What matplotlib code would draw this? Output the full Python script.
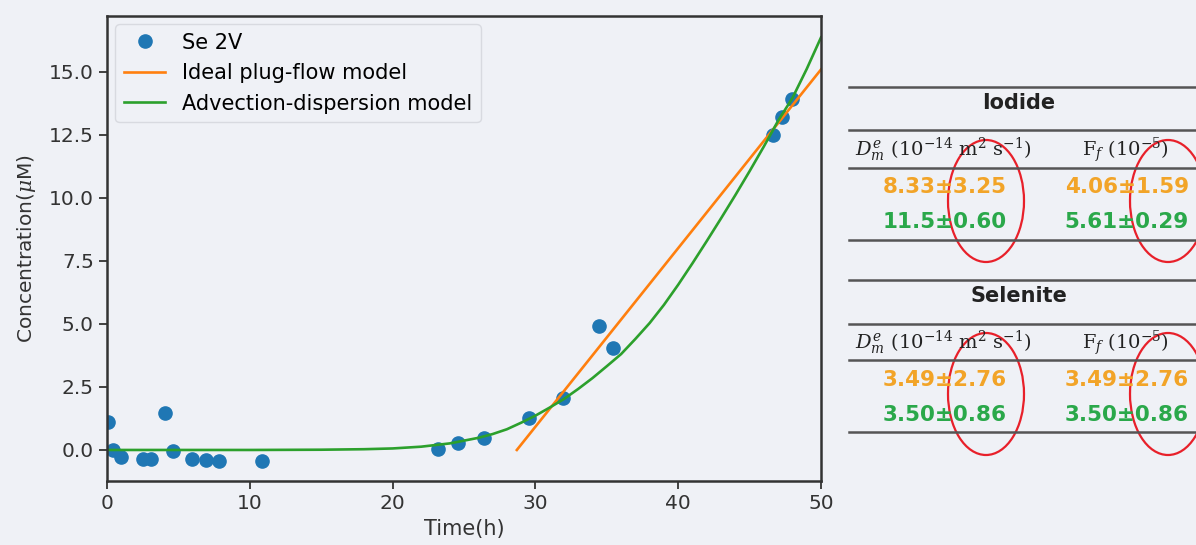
import numpy as np
import matplotlib
matplotlib.use("Agg")
import matplotlib.pyplot as plt
from matplotlib.lines import Line2D
from matplotlib.patches import Ellipse

plt.rcParams["mathtext.fontset"] = "dejavuserif"

# measured data (Se 2V)
t_obs = [0.05, 0.4, 0.95, 2.5, 3.05, 4.05, 4.6, 5.95, 6.95, 7.85, 10.85,
         23.2, 24.6, 26.4, 29.55, 31.95, 34.45, 35.4, 46.65, 47.3, 48.0]
c_obs = [1.10, 0.0, -0.28, -0.35, -0.35, 1.48, -0.03, -0.35, -0.39, -0.42, -0.45,
         0.04, 0.27, 0.48, 1.28, 2.04, 4.93, 4.06, 12.48, 13.2, 13.93]

t_plug = [28.7, 50.0]
c_plug = [0.0, 15.08]

# advection-dispersion model
t_ad = [0, 5, 10, 15, 18, 20, 22, 24, 26, 27, 28, 29, 30, 31, 32, 33, 34, 35,
        36, 37, 38, 39, 40, 41, 42, 43, 44, 45, 46, 47, 48, 49, 50]
c_ad = [0.0, 0.0, 0.0, 0.01, 0.03, 0.06, 0.13, 0.26, 0.48, 0.63, 0.82, 1.08,
        1.36, 1.68, 2.02, 2.42, 2.85, 3.32, 3.80, 4.40, 5.03, 5.75, 6.55,
        7.40, 8.28, 9.18, 10.10, 11.05, 12.03, 13.05, 13.95, 15.10, 16.35]

# table on the right
sections = ["Iodide", "Selenite"]
plug_vals = [["8.33±3.25", "4.06±1.59"], ["3.49±2.76", "3.49±2.76"]]
ad_vals = [["11.5±0.60", "5.61±0.29"], ["3.50±0.86", "3.50±0.86"]]
col_heads = [r"$D_m^e$ (10$^{-14}$ m$^2$ s$^{-1}$)", r"F$_f$ (10$^{-5}$)"]

bg = "#eff1f6"
W, H = 1196, 545

fig = plt.figure(figsize=(W / 100, H / 100), dpi=100, facecolor=bg)
ax = fig.add_axes([107 / W, 1 - 481 / H, (821 - 107) / W, (481 - 16) / H])
ax.set_facecolor(bg)

ax.plot(t_obs, c_obs, "o", color="#1f77b4", ms=9.5, ls="none", label="Se 2V")
ax.plot(t_plug, c_plug, color="#ff7f0e", lw=1.9, label="Ideal plug-flow model")
ax.plot(t_ad, c_ad, color="#2ca02c", lw=1.9, label="Advection-dispersion model")

ax.set_xlim(0, 50)
ax.set_ylim(-1.23, 17.2)
ax.set_yticks([0, 2.5, 5, 7.5, 10, 12.5, 15])
ax.set_xticks([0, 10, 20, 30, 40, 50])
ax.tick_params(labelsize=14.5, length=6, width=1.3, colors="#333333")
for s in ax.spines.values():
    s.set_linewidth(1.8)
    s.set_color("#333333")
ax.set_xlabel("Time(h)", fontsize=15, color="#333333", labelpad=4)
ax.set_ylabel(r"Concentration($\mu$M)", fontsize=14.5, color="#333333", labelpad=8)
leg = ax.legend(loc="upper left", fontsize=15, facecolor=bg, framealpha=1,
                edgecolor="#d8dae0", borderaxespad=0.4, labelspacing=0.5)

# table drawn in figure pixel coordinates
def fx(x):
    return x / W

def fy(y):
    return 1 - y / H

line_ys = [87, 130, 168, 240, 280, 324, 360, 432]
for y in line_ys:
    fig.add_artist(Line2D([fx(849), fx(1196)], [fy(y), fy(y)],
                          color="#555555", lw=1.8, transform=fig.transFigure))

orange_t = "#f2a428"
green_t = "#2aa84a"
col_x = [945, 1127]
for k, base in enumerate([0, 193]):
    fig.text(fx(1019), fy(103 + base), sections[k], ha="center", va="center",
             fontsize=15, fontweight="bold", color="#222222", family="DejaVu Sans")
    for j in range(2):
        fig.text(fx(col_x[j] - 2), fy(150 + base), col_heads[j], ha="center", va="center",
                 fontsize=14, color="#222222", family="DejaVu Serif")
        fig.text(fx(col_x[j]), fy(187 + base), plug_vals[k][j], ha="center", va="center",
                 fontsize=15.5, fontweight="bold", color=orange_t, family="DejaVu Sans")
        fig.text(fx(col_x[j]), fy(222 + base), ad_vals[k][j], ha="center", va="center",
                 fontsize=15.5, fontweight="bold", color=green_t, family="DejaVu Sans")
    for cx in [986, 1168]:
        fig.add_artist(Ellipse((fx(cx), fy(201 + base)), 76 / W, 122 / H,
                               fill=False, ec="#e8202a", lw=1.6,
                               transform=fig.transFigure))

fig.savefig("out.png", dpi=100, facecolor=bg)
